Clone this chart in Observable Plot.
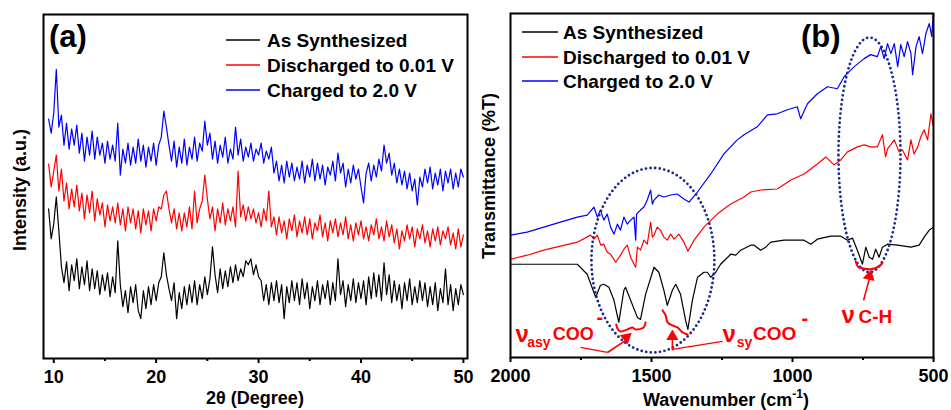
<!DOCTYPE html>
<html><head><meta charset="utf-8">
<script src="https://cdn.jsdelivr.net/npm/d3@7"></script>
<script src="https://cdn.jsdelivr.net/npm/@observablehq/plot@0.6"></script>
<style>
body{margin:0;background:#fff;}
#wrap{display:flex;width:951px;height:410px;overflow:hidden;}
svg text{font-weight:700;}
</style></head><body><div id="wrap"></div>
<script>
// ---------- shared ----------
const series = ["As Synthesized", "Discharged to 0.01 V", "Charged to 2.0 V"];
const colors = ["#000000", "#ff0000", "#0000ff"];

// ---------- panel (a): XRD, 2θ grid 9.5..50 step 0.25 ----------
const xrdStart = 9.5, xrdStep = 0.25;
const xrdTicks = [10, 20, 30, 40, 50];
const xrdMinor = [15, 25, 35, 45];
const xrdAs = [150,120,135,162,128,92,76,97,68,94, 78,100,70,92,74,98,68,90,70,88, 64,84,68,86,62,82,66,118,74,52, 68,46,72,56,74,48,40,68,50,72, 54,74,58,76,82,106,84,70,58,76, 40,66,50,72,54,74,56,78,54,74, 60,82,64,80,112,84,66,90,70,88, 72,92,76,94,78,90,82,98,94,100, 84,94,82,78,58,74,54,76,58,78, 56,74,40,72,56,78,58,76,54,80, 60,76,50,72,58,78,54,74,60,78, 54,76,58,100,64,78,52,74,58,80, 56,76,60,78,54,82,60,86,62,84, 58,96,64,84,56,78,58,74,50,76, 58,80,54,72,56,78,58,76,52,72, 54,76,48,70,56,90,54,74,48,70, 54,74,64];
const xrdDis = [195,172,188,204,168,190,158,176,150,170, 152,174,148,166,140,164,146,168,138,160, 144,156,132,154,138,152,136,156,134,150, 128,152,136,150,130,148,126,150,134,148, 128,150,138,152,150,164,168,150,136,150, 130,146,128,146,132,152,130,168,136,150, 158,184,160,140,152,128,150,136,156,134, 150,138,152,132,188,142,154,138,152,140, 150,136,146,132,150,138,168,132,142,124, 142,126,138,120,140,128,144,122,138,126, 142,124,140,120,136,128,144,122,136,118, 138,126,140,122,136,124,142,120,134,118, 136,124,138,120,132,118,134,124,140,120, 132,118,138,122,134,116,130,110,128,118, 134,120,132,112,130,120,134,116,128,112, 130,118,132,114,128,120,132,114,126,110, 130,112,124];
const xrdCha = [240,226,246,290,232,244,214,236,210,230, 214,234,206,226,198,222,204,228,200,222, 204,216,196,218,200,214,198,236,184,210, 196,216,194,212,196,220,198,214,192,212, 198,216,194,214,222,248,232,214,198,218, 192,212,196,220,194,212,200,222,198,216, 208,238,214,226,200,218,196,214,202,222, 196,210,200,232,204,220,198,212,202,216, 198,210,204,216,196,208,200,212,186,198, 178,194,176,198,182,196,178,192,180,198, 176,194,182,200,178,196,180,194,174,192, 184,198,178,206,186,196,172,190,176,194, 180,190,172,156,186,196,178,194,182,200, 188,214,196,206,184,196,176,190,174,188, 170,186,168,180,154,182,172,190,176,192, 170,186,174,190,168,188,176,190,170,186, 172,190,182];

// ---------- panel (b): FTIR ----------
const ftirTicks = [2000, 1500, 1000, 500];
const ftirMinor = [1750, 1250, 750];
const ftirAsWn = [2000,1763,1728,1698,1681,1669,1651,1633,1616,1598,1592,1574,1550,1539,1521,1491,1474,1456,1444,1426,1414,1397,1379,1371,1355,1337,1314,1302,1290,1272,1255,1219,1201,1184,1148,1136,1113,1095,1077,1030,959,935,912,864,829,805,787,770,752,740,728,716,705,693,681,663,627,580,551,533,515,500];
const ftirAsT  = [93,93,83,60,72,73,70,57,35,67,70,57,40,38,63,90,85,67,52,67,73,63,37,28,57,80,85,85,80,85,93,103,102,107,112,112,107,110,115,117,117,113,118,121,121,117,119,107,93,110,100,98,108,100,110,113,112,110,112,120,127,130];
const ftirDisWn = [2000,1941,1882,1823,1763,1716,1704,1692,1680,1669,1657,1645,1627,1610,1598,1586,1574,1562,1556,1550,1539,1527,1515,1503,1497,1491,1480,1468,1456,1444,1432,1420,1403,1385,1371,1349,1314,1267,1219,1172,1148,1113,1054,1006,959,912,882,853,829,805,770,746,723,699,681,670,663,639,622,610,592,580,569,556,545,533,521,509,500];
const ftirDisT  = [98,102,107,111,115,122,118,122,112,113,105,103,95,102,108,112,100,93,90,110,107,117,113,135,120,122,130,127,120,117,123,118,123,115,106,117,130,143,153,160,165,167,168,177,183,193,200,192,197,205,210,212,210,210,222,200,208,217,205,207,197,217,203,210,220,227,217,243,230];
const ftirChaWn = [2000,1941,1882,1823,1763,1728,1704,1692,1681,1669,1657,1645,1633,1621,1610,1598,1586,1574,1562,1556,1553,1539,1527,1515,1503,1497,1491,1474,1456,1432,1409,1385,1367,1337,1290,1243,1196,1172,1125,1089,1054,1018,983,971,947,912,876,841,817,781,746,723,699,687,675,663,651,639,627,616,604,592,580,574,562,551,539,527,515,506,500];
const ftirChaT  = [122,125,130,135,140,142,150,140,147,137,143,130,123,133,127,140,133,137,140,117,143,147,150,157,167,153,157,162,160,162,163,158,155,165,183,203,217,222,230,242,243,247,250,238,253,263,270,268,280,290,298,302,300,310,298,313,303,313,290,312,300,315,303,282,310,320,303,323,333,320,347];

// ---------- panel (b) annotations (data coordinates) ----------
const ellipseCx = [1495, 727], ellipseCy = [97, 202], ellipseRx = [218, 110], ellipseRy = [92, 117];
const bracketAsyWn = [1625,1621,1610,1585,1567,1557,1528,1521], bracketAsyT = [33,29,26,28,30,28,30,35];
const bracketSyWn  = [1461,1450,1443,1426,1408,1390,1372],        bracketSyT  = [47,42,35,32,30,25,23];
const bracketChWn  = [776,766,752,723,699,681],                    bracketChT  = [96,90,89,88,90,94];
const leaderX1 = [1752, 1426], leaderY1 = [10, 8], leaderX2 = [1656, 1248], leaderY2 = [5, 16];
const arrowX1 = [1656, 1426, 748], arrowY1 = [5, 7, 57], arrowX2 = [1592, 1426, 728], arrowY2 = [17, 19, 78];
const headX = [1589, 1426, 727], headY = [20, 21, 81], headAngle = [49, 0, 14];
const noteText = ["ν", "asy", "COO", "-", "ν", "sy", "COO", "-", "ν", "C-H"];
const noteX    = [1982, 1941, 1850, 1695, 1248, 1198, 1140, 968, 826, 766];
const noteY    = [15, 10, 17, 33, 15, 10, 17, 32, 34, 34];
const noteSize = [24, 14, 18, 20, 24, 14, 19, 20, 24, 19];

// ---------- build rows ----------
const xrdRows = [xrdAs, xrdDis, xrdCha].flatMap((arr, k) =>
  arr.map((y, i) => ({x: xrdStart + xrdStep * i, y, s: series[k]})));
const ftirRows = [[ftirAsWn, ftirAsT], [ftirDisWn, ftirDisT], [ftirChaWn, ftirChaT]].flatMap(([xs, ys], k) =>
  ys.map((y, i) => ({x: xs[i], y, s: series[k]})));
const ellipseRows = ellipseCx.flatMap((cx, k) => d3.range(0, 361, 2).map(a => ({
  k, x: cx + ellipseRx[k] * Math.cos(a * Math.PI / 180), y: ellipseCy[k] + ellipseRy[k] * Math.sin(a * Math.PI / 180)})));
const bracketRows = [[bracketAsyWn, bracketAsyT], [bracketSyWn, bracketSyT], [bracketChWn, bracketChT]].flatMap(([xs, ys], k) =>
  xs.map((x, i) => ({k, x, y: ys[i]})));
const leaderRows = leaderX1.map((x1, i) => ({x1, y1: leaderY1[i], x2: leaderX2[i], y2: leaderY2[i]}));
const arrowRows = arrowX1.map((x1, i) => ({x1, y1: arrowY1[i], x2: arrowX2[i], y2: arrowY2[i]}));
const headRows = headX.map((x, i) => ({x, y: headY[i], a: headAngle[i]}));
const noteRows = noteText.map((t, i) => ({t, x: noteX[i], y: noteY[i], s: noteSize[i]}));

const FONT = "Liberation Sans, Arial, Helvetica, sans-serif";
const RED = "#ff0000";
const intFmt = d3.format("d");

function addDecor(svg, o) {
  const g = d3.select(svg).append("g").attr("font-family", FONT).attr("font-weight", 700)
    .attr("text-anchor", "start");
  o.legendY.forEach((y, i) => {
    g.append("line").attr("x1", o.lx1).attr("x2", o.lx2).attr("y1", y).attr("y2", y)
      .attr("stroke", colors[i]).attr("stroke-width", 1.3);
    g.append("text").attr("x", o.tx).attr("y", y).attr("dy", "0.35em").attr("font-size", 19)
      .attr("text-anchor", "start").attr("fill", "#000").text(series[i]);
  });
  g.append("text").attr("x", o.tagX).attr("y", o.tagY).attr("font-size", 31).attr("text-anchor", "start")
    .attr("fill", "#000").text(o.tag);
  g.append("text").attr("transform", `translate(${o.ylx},${o.yly}) rotate(-90)`).attr("text-anchor", "middle")
    .attr("dy", "0.35em").attr("font-size", 18).attr("fill", "#000").text(o.ylabel);
  const xl = g.append("text").attr("x", o.xlx).attr("y", o.xly).attr("text-anchor", "middle")
    .attr("font-size", 18).attr("fill", "#000");
  o.xlabel(xl);
}

// ---------- panel (a) ----------
const pa = Plot.plot({
  width: 476, height: 410,
  marginLeft: 43, marginRight: 9, marginTop: 14, marginBottom: 52,
  style: {fontFamily: FONT, background: "white", color: "black", overflow: "visible"},
  x: {domain: [9, 50.4]},
  y: {domain: [0, 345], axis: null},
  color: {domain: series, range: colors},
  marks: [
    Plot.line(xrdRows, {x: "x", y: "y", z: "s", stroke: "s", strokeWidth: 1.2, clip: true}),
    Plot.axisX({ticks: xrdTicks, tickSize: 5, tickPadding: 7, fontSize: 18, strokeWidth: 2, label: null, tickFormat: intFmt}),
    Plot.axisX({ticks: xrdMinor, tickSize: 3, tickFormat: () => "", strokeWidth: 2, label: null}),
    Plot.frame({stroke: "black", strokeWidth: 2})
  ]
});
addDecor(pa, {
  legendY: [40, 65, 90], lx1: 226, lx2: 260, tx: 267,
  tag: "(a)", tagX: 49, tagY: 47,
  ylabel: "Intensity (a.u.)", ylx: 20, yly: 190,
  xlx: 255, xly: 404,
  xlabel: t => { t.text("2θ (Degree)"); }
});

// ---------- panel (b) ----------
const pb = Plot.plot({
  width: 475, height: 410,
  marginLeft: 34, marginRight: 18, marginTop: 13, marginBottom: 53,
  style: {fontFamily: FONT, background: "white", color: "black", overflow: "visible"},
  x: {domain: [2000, 500]},
  y: {domain: [0, 343], axis: null},
  color: {domain: series, range: colors},
  marks: [
    Plot.line(ftirRows, {x: "x", y: "y", z: "s", stroke: "s", strokeWidth: 1.2, clip: true}),
    Plot.line(ellipseRows, {x: "x", y: "y", z: "k", stroke: "#1b2a8e", strokeWidth: 2.8,
      strokeDasharray: "0,4.6", strokeLinecap: "round"}),
    Plot.line(bracketRows, {x: "x", y: "y", z: "k", stroke: RED, strokeWidth: 2, curve: "catmull-rom"}),
    Plot.link(leaderRows, {x1: "x1", y1: "y1", x2: "x2", y2: "y2", stroke: RED, strokeWidth: 1.3}),
    Plot.link(arrowRows, {x1: "x1", y1: "y1", x2: "x2", y2: "y2", stroke: RED, strokeWidth: 1.6}),
    Plot.dot(headRows, {x: "x", y: "y", symbol: "triangle", rotate: "a", r: 4.5, fill: RED, stroke: "none"}),
    Plot.text(noteRows, {x: "x", y: "y", text: "t", fontSize: "s", fill: RED, textAnchor: "start",
      lineAnchor: "bottom", fontWeight: 700}),
    Plot.axisX({ticks: ftirTicks, tickSize: 5, tickPadding: 7, fontSize: 18, strokeWidth: 2, label: null, tickFormat: intFmt}),
    Plot.axisX({ticks: ftirMinor, tickSize: 3, tickFormat: () => "", strokeWidth: 2, label: null}),
    Plot.frame({stroke: "black", strokeWidth: 2})
  ]
});
addDecor(pb, {
  legendY: [32, 57, 81], lx1: 46, lx2: 82, tx: 87,
  tag: "(b)", tagX: 325, tagY: 47,
  ylabel: "Transmittance (%T)", ylx: 13, yly: 176,
  xlx: 250, xly: 406,
  xlabel: t => {
    t.append("tspan").text("Wavenumber (cm");
    t.append("tspan").attr("font-size", 12).attr("dy", -8).text("-1");
    t.append("tspan").attr("dy", 8).text(")");
  }
});

document.getElementById("wrap").append(pa, pb);
</script>
</body></html>
